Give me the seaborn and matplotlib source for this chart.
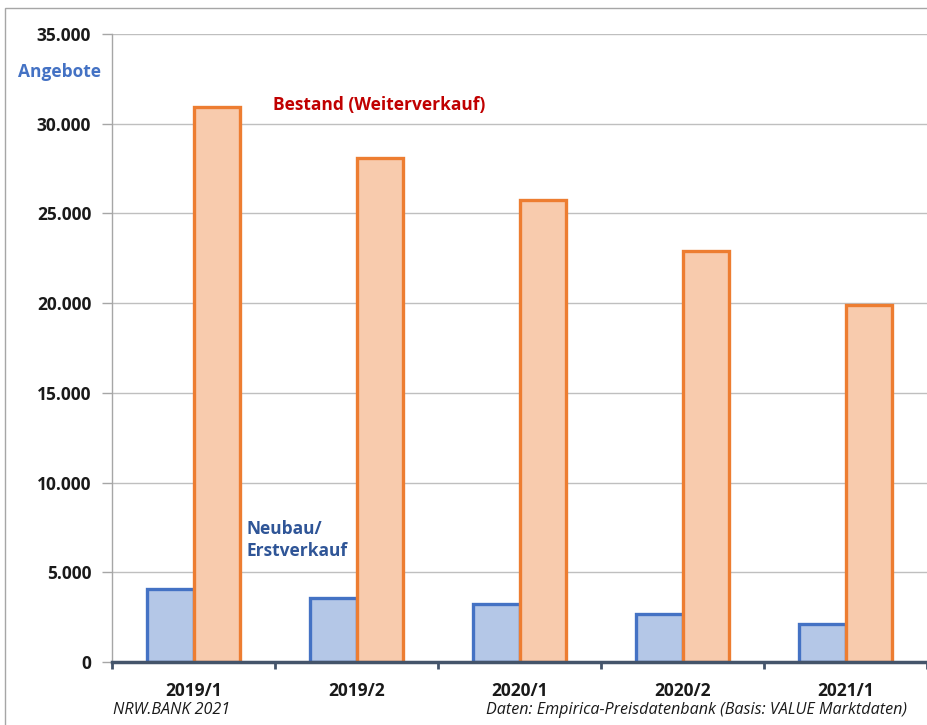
import numpy as np
import pandas as pd
import matplotlib
matplotlib.use('Agg')
import matplotlib.pyplot as plt
import matplotlib.ticker as mticker
from matplotlib.patches import Rectangle
import seaborn as sns

# Angebote je Halbjahr
periods = ['2019/1', '2019/2', '2020/1', '2020/2', '2021/1']
neubau = [4080, 3580, 3230, 2680, 2120]
bestand = [30950, 28100, 25750, 22920, 19880]
series = ['Neubau/Erstverkauf', 'Bestand (Weiterverkauf)']

df = pd.DataFrame({
    'Periode': periods * 2,
    'Angebote': neubau + bestand,
    'Art': [series[0]] * len(periods) + [series[1]] * len(periods),
})

sns.set_style('white')
plt.rcParams['font.family'] = ['Open Sans', 'DejaVu Sans']

fig = plt.figure(figsize=(9.27, 7.25), dpi=100)
ax = fig.add_axes([112 / 927, 1 - 662 / 725, 815 / 927, 628 / 725])

fills = ['#b4c7e7', '#f8cbad']
edges = ['#4472c4', '#ed7d31']
sns.barplot(data=df, x='Periode', y='Angebote', hue='Art', hue_order=series,
            palette=fills, saturation=1, width=0.565, dodge=True,
            legend=False, ax=ax, zorder=3)
for i, cont in enumerate(ax.containers):
    for bar in cont:
        bar.set_edgecolor(edges[i])
        bar.set_linewidth(2.4)

ax.set_xlim(-0.5, len(periods) - 0.5)
ax.set_ylim(0, 35000)
ax.set_yticks(np.arange(0, 35001, 5000))
ax.yaxis.set_major_formatter(mticker.FuncFormatter(
    lambda v, p: f'{v:,.0f}'.replace(',', '.')))
ax.grid(axis='y', color='#bfbfbf', linewidth=1, zorder=0)
ax.set_xlabel('')
ax.set_ylabel('')

for s in ['top', 'right']:
    ax.spines[s].set_visible(False)
ax.spines['left'].set_color('#a6a6a6')
ax.spines['left'].set_linewidth(1)
ax.spines['bottom'].set_color('#44546a')
ax.spines['bottom'].set_linewidth(2.5)
ax.spines['bottom'].set_zorder(5)

ax.tick_params(axis='y', left=True, length=7, width=1, color='#a6a6a6',
               labelsize=12.5, pad=8)
ax.tick_params(axis='x', bottom=False, labelsize=12.5, pad=11)
ax.set_xticks(np.arange(-0.5, len(periods), 1.0), minor=True)
ax.tick_params(axis='x', which='minor', bottom=True, length=5, width=2,
               color='#44546a', direction='out')
for lab in ax.get_xticklabels() + ax.get_yticklabels():
    lab.set_fontweight('bold')
    lab.set_color('#1a1a1a')

# Beschriftungen
fig.text(18 / 927, 1 - 72 / 725, 'Angebote', color='#4472c4', fontsize=12.5,
         fontweight='bold', va='center', ha='left')
fig.text(273 / 927, 1 - 105 / 725, 'Bestand (Weiterverkauf)', color='#c00000',
         fontsize=12.5, fontweight='bold', va='center', ha='left')
fig.text(247 / 927, 1 - 540 / 725, 'Neubau/\nErstverkauf', color='#2f5597',
         fontsize=12.5, fontweight='bold', va='center', ha='left',
         linespacing=1.3)
fig.text(113 / 927, 1 - 710 / 725, 'NRW.BANK 2021', style='italic',
         fontsize=11.6, va='center', ha='left', color='#1a1a1a')
fig.text(907 / 927, 1 - 710 / 725,
         'Daten: Empirica-Preisdatenbank (Basis: VALUE Marktdaten)',
         style='italic', fontsize=11.6, va='center', ha='right',
         color='#1a1a1a')

# Rahmen (links und oben)
fig.patches.append(Rectangle((5 / 927, -0.05), 1.2, 1 - 8 / 725 + 0.05,
                             transform=fig.transFigure, fill=False,
                             edgecolor='#a6a6a6', linewidth=1))

fig.savefig('out.png', dpi=100)
